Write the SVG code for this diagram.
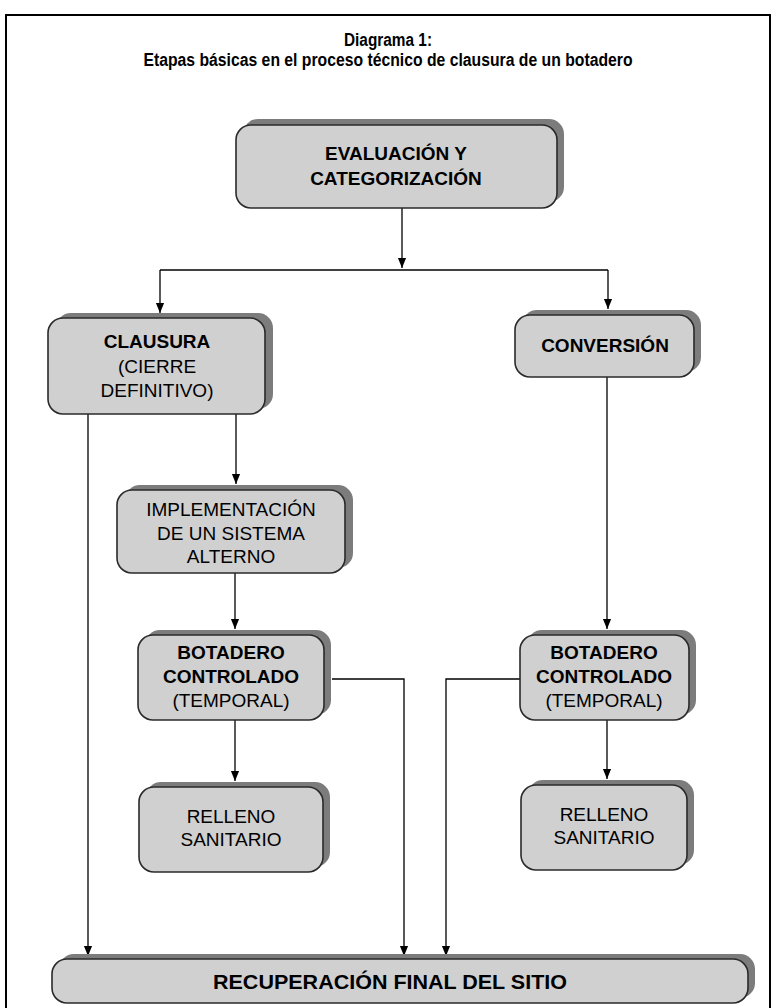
<svg xmlns="http://www.w3.org/2000/svg" width="776" height="1008" viewBox="0 0 776 1008">
<style>
.t{font-family:"Liberation Sans",Arial,sans-serif;font-size:19px;fill:#000;text-anchor:middle}
.b{font-weight:bold}
.box{fill:#d0d0d0;stroke:#2a2a2a;stroke-width:1.6}
.sh{fill:#7c7c7c}
.c{fill:none;stroke:#000;stroke-width:1.3}
</style>
<defs>
<marker id="ah" markerUnits="userSpaceOnUse" markerWidth="10" markerHeight="12" refX="11" refY="5" orient="auto" viewBox="0 0 11 10">
<path d="M0,0.5 L11,5 L0,9.5 z" fill="#000"/>
</marker>
</defs>
<rect x="6" y="15" width="764" height="994" fill="#fff" stroke="#000" stroke-width="2"/>
<g id="title">
<text class="t b" x="388" y="46" style="font-size:18px" textLength="88" lengthAdjust="spacingAndGlyphs">Diagrama 1:</text>
<text class="t b" x="388" y="66" style="font-size:18px" textLength="489" lengthAdjust="spacingAndGlyphs">Etapas básicas en el proceso técnico de clausura de un botadero</text>
</g>
<g id="connectors">
<path class="c" d="M402,208 V268" marker-end="url(#ah)"/>
<path class="c" d="M160,270 H608"/>
<path class="c" d="M160,270 V313" marker-end="url(#ah)"/>
<path class="c" d="M608,270 V309" marker-end="url(#ah)"/>
<path class="c" d="M88,414 V956" marker-end="url(#ah)"/>
<path class="c" d="M236,414 V484" marker-end="url(#ah)"/>
<path class="c" d="M235,573 V629" marker-end="url(#ah)"/>
<path class="c" d="M235,720 V781" marker-end="url(#ah)"/>
<path class="c" d="M332,679 H404 V956" marker-end="url(#ah)"/>
<path class="c" d="M607,377 V629" marker-end="url(#ah)"/>
<path class="c" d="M520,679 H446 V956" marker-end="url(#ah)"/>
<path class="c" d="M607,720 V779" marker-end="url(#ah)"/>
</g>
<g id="evaluacion">
<rect class="sh" x="243" y="119" width="321" height="83" rx="15"/>
<rect class="box" x="236" y="125" width="321" height="83" rx="15"/>
<text class="t b" x="396" y="160">EVALUACIÓN Y</text>
<text class="t b" x="396" y="185">CATEGORIZACIÓN</text>
</g>
<g id="clausura">
<rect class="sh" x="56" y="313" width="217" height="96" rx="15"/>
<rect class="box" x="48" y="318" width="217" height="96" rx="15"/>
<text class="t b" x="157" y="348">CLAUSURA</text>
<text class="t" x="157" y="373">(CIERRE</text>
<text class="t" x="157" y="397">DEFINITIVO)</text>
</g>
<g id="conversion">
<rect class="sh" x="522" y="310" width="179" height="62" rx="15"/>
<rect class="box" x="515" y="315" width="179" height="62" rx="15"/>
<text class="t b" x="605" y="352">CONVERSIÓN</text>
</g>
<g id="implementacion">
<rect class="sh" x="125" y="485" width="228" height="83" rx="15"/>
<rect class="box" x="117" y="490" width="228" height="83" rx="15"/>
<text class="t" x="231" y="516">IMPLEMENTACIÓN</text>
<text class="t" x="231" y="540">DE UN SISTEMA</text>
<text class="t" x="231" y="563">ALTERNO</text>
</g>
<g id="botadero-izq">
<rect class="sh" x="145" y="630" width="186" height="85" rx="15"/>
<rect class="box" x="138" y="635" width="186" height="85" rx="15"/>
<text class="t b" x="231" y="659">BOTADERO</text>
<text class="t b" x="231" y="683">CONTROLADO</text>
<text class="t" x="231" y="707">(TEMPORAL)</text>
</g>
<g id="botadero-der">
<rect class="sh" x="527" y="630" width="169" height="85" rx="15"/>
<rect class="box" x="520" y="635" width="169" height="85" rx="15"/>
<text class="t b" x="604" y="659">BOTADERO</text>
<text class="t b" x="604" y="683">CONTROLADO</text>
<text class="t" x="604" y="707">(TEMPORAL)</text>
</g>
<g id="relleno-izq">
<rect class="sh" x="146" y="782" width="184" height="85" rx="15"/>
<rect class="box" x="139" y="787" width="184" height="85" rx="15"/>
<text class="t" x="231" y="823">RELLENO</text>
<text class="t" x="231" y="846">SANITARIO</text>
</g>
<g id="relleno-der">
<rect class="sh" x="528" y="780" width="166" height="85" rx="15"/>
<rect class="box" x="521" y="785" width="166" height="85" rx="15"/>
<text class="t" x="604" y="821">RELLENO</text>
<text class="t" x="604" y="844">SANITARIO</text>
</g>
<g id="recuperacion">
<rect class="sh" x="59" y="954" width="696" height="44" rx="15"/>
<rect class="box" x="52" y="959" width="696" height="44" rx="15"/>
<text class="t b" x="390" y="989" style="font-size:21px" textLength="354" lengthAdjust="spacingAndGlyphs">RECUPERACIÓN FINAL DEL SITIO</text>
</g>
</svg>
